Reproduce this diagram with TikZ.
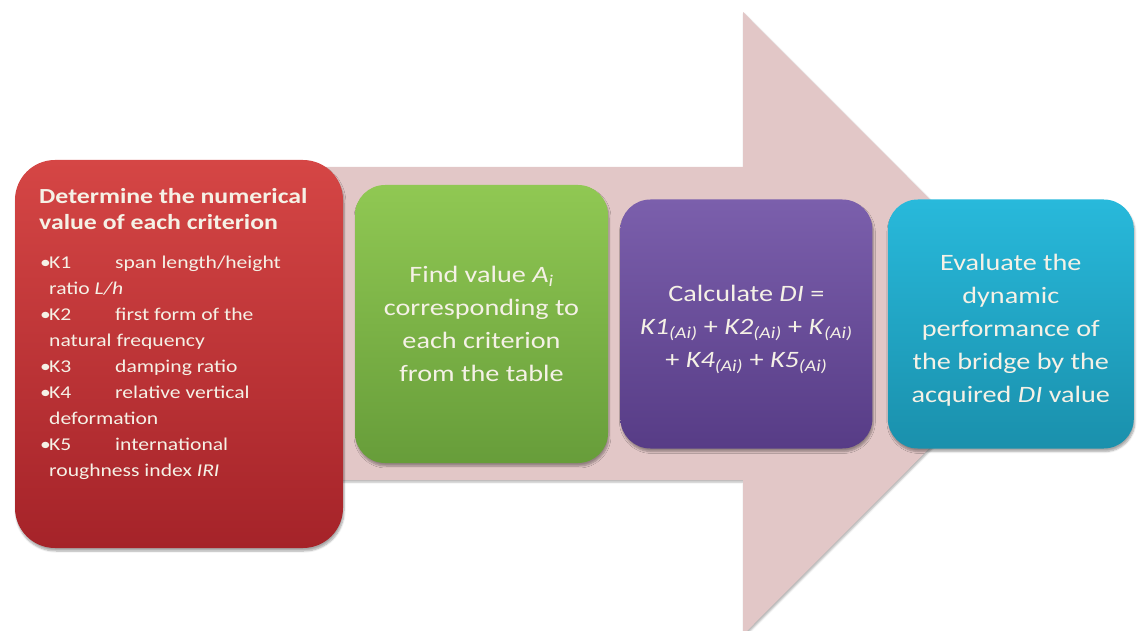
\documentclass[tikz,border=0pt]{standalone}
\usepackage{fontspec}
\setmainfont{Carlito}[FakeStretch=1.2]
\usetikzlibrary{positioning,shadows.blur}

\definecolor{arrowpink}{HTML}{E2C7C7}
\definecolor{redtop}{HTML}{D54645}
\definecolor{redbot}{HTML}{A52329}
\definecolor{greentop}{HTML}{90C853}
\definecolor{greenbot}{HTML}{679D3A}
\definecolor{purpletop}{HTML}{7B5FAC}
\definecolor{purplebot}{HTML}{573C86}
\definecolor{tealtop}{HTML}{28B9DB}
\definecolor{tealbot}{HTML}{1A90AC}
\definecolor{boxtext}{HTML}{F5F1E6}

\newcommand{\kai}[1]{\textit{K#1}\textsubscript{\itshape (Ai)}}
\newcommand{\critem}[2]{\makebox[9pt][l]{\textbullet}\makebox[66pt][l]{#1}#2}
\newcommand{\topstrut}[1]{\rule{0pt}{#1}}

\begin{document}
\begin{tikzpicture}[x=1pt,y=-1pt,node distance=12pt,
	stepbox/.style={rectangle,rounded corners=30pt,inner sep=0pt,text=boxtext,align=center,
		font=\fontsize{23.5}{33}\selectfont,
		blur shadow={shadow blur steps=6,shadow xshift=1pt,shadow yshift=-3pt,shadow opacity=35}},
	redtext/.style={inner sep=0pt,text=boxtext,align=left}]
			\useasboundingbox (0,0) rectangle (1137,631);
			% big arrow behind the steps
			\fill[arrowpink,blur shadow={shadow blur steps=4,shadow xshift=1pt,shadow yshift=-2pt,shadow opacity=30}]
			(40,167) -- (743,167) -- (743,12) -- (1054,323.5) -- (743,635) -- (743,480) -- (40,480) -- cycle;
			% steps
			\node[stepbox,rounded corners=40pt,top color=redtop,bottom color=redbot,
				minimum width=328pt,minimum height=388pt](redbox) at (179,354) {};
			\node[redtext,font=\bfseries\fontsize{21.5}{26}\selectfont,anchor=north west](redtitle) at (39,188.5)
				{Determine the numerical\\value of each criterion};
			\node[redtext,font=\fontsize{18}{26}\selectfont,anchor=north west](redlist) at (40,255.5)
				{\critem{K1}{span length/height}\\
				\hspace*{9pt}ratio \textit{L/h}\\
				\critem{K2}{first form of the}\\
				\hspace*{9pt}natural frequency\\
				\critem{K3}{damping ratio}\\
				\critem{K4}{relative vertical}\\
				\hspace*{9pt}deformation\\
				\critem{K5}{international}\\
				\hspace*{9pt}roughness index \textit{IRI}};
			\node[stepbox,top color=greentop,bottom color=greenbot,
				minimum width=253pt,minimum height=278pt](green) at (481.5,324)
				{Find value \textit{A}\textsubscript{\itshape i}\\corresponding to\\each criterion\\from the table};
			\node[stepbox,top color=purpletop,bottom color=purplebot,
				minimum width=252pt,minimum height=249pt](purple)[right=12pt of green]
				{\topstrut{27pt}Calculate \textit{DI} =\\\kai{1} + \kai{2} + \textit{K}\textsubscript{\itshape (Ai)}\\+ \kai{4} + \kai{5}};
			\node[stepbox,top color=tealtop,bottom color=tealbot,
				minimum width=246pt,minimum height=249pt](teal)[right=15pt of purple]
				{\topstrut{29pt}Evaluate the\\dynamic\\performance of\\the bridge by the\\acquired \textit{DI} value};
\end{tikzpicture}
\end{document}
